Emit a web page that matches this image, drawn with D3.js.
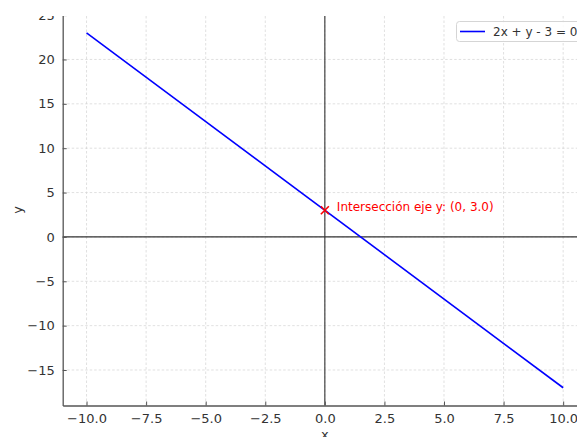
<!DOCTYPE html>
<html>
<head>
<meta charset="utf-8">
<script src="https://cdn.jsdelivr.net/npm/d3@7"></script>
<style>
  body { margin: 0; background: #fff; }
  text { font-family: "DejaVu Sans", sans-serif; }
</style>
</head>
<body>
<div id="chart"></div>
<script>
// line 2x + y - 3 = 0  ->  y = 3 - 2x
var lineX = [-10, 10];
var lineY = [23, -17];
var interceptPt = [0, 3];
var xTicks = [-10, -7.5, -5, -2.5, 0, 2.5, 5, 7.5, 10];
var yTicks = [-15, -10, -5, 0, 5, 10, 15, 20, 25];
var legendLabel = "2x + y - 3 = 0";
var interceptLabel = "Intersección eje y: (0, 3.0)";

var width = 577, height = 437;

var svg = d3.select("#chart")
    .append("svg")
    .attr("width", width)
    .attr("height", height);

// the picture is cut off a bit above the top of the plot
svg.append("clipPath").attr("id", "crop")
    .append("rect").attr("x", 0).attr("y", 16).attr("width", width).attr("height", height - 16);
var root = svg.append("g").attr("clip-path", "url(#crop)");

var x = d3.scaleLinear().domain([-11, 11]).range([62.7, 587]);
var y = d3.scaleLinear().domain([-19, 25]).range([405.5, 15.1]);

var fmtMinus = function (s) { return s.replace("-", "\u2212"); };

// grid
root.append("g").selectAll("line")
    .data(xTicks)
    .enter().append("line")
    .attr("x1", function (d) { return x(d); })
    .attr("x2", function (d) { return x(d); })
    .attr("y1", y(-19))
    .attr("y2", y(25))
    .style("stroke", "#d3d3d3")
    .style("stroke-width", 0.7)
    .style("stroke-dasharray", "2.5,2");
root.append("g").selectAll("line")
    .data(yTicks)
    .enter().append("line")
    .attr("y1", function (d) { return y(d); })
    .attr("y2", function (d) { return y(d); })
    .attr("x1", x(-11))
    .attr("x2", x(11))
    .style("stroke", "#d3d3d3")
    .style("stroke-width", 0.7)
    .style("stroke-dasharray", "2.5,2");

// zero lines
root.append("line")
    .attr("x1", x(-11)).attr("x2", x(11))
    .attr("y1", y(0)).attr("y2", y(0))
    .style("stroke", "#333")
    .style("stroke-width", 1.1);
root.append("line")
    .attr("x1", x(0)).attr("x2", x(0))
    .attr("y1", y(-19)).attr("y2", y(25))
    .style("stroke", "#333")
    .style("stroke-width", 1.1);

// the line
var pts = lineX.map(function (d, i) { return [d, lineY[i]]; });
root.append("path")
    .datum(pts)
    .attr("d", d3.line().x(function (d) { return x(d[0]); }).y(function (d) { return y(d[1]); }))
    .style("fill", "none")
    .style("stroke", "#0000ff")
    .style("stroke-width", 1.6);

// axes (ticks inward)
var xAxis = root.append("g")
    .attr("transform", "translate(0," + y(-19) + ")")
    .call(d3.axisBottom(x).tickValues(xTicks).tickSizeInner(-4).tickSizeOuter(0).tickPadding(8)
        .tickFormat(function (d) { return fmtMinus(d3.format(".1f")(d)); }));
var yAxis = root.append("g")
    .attr("transform", "translate(" + x(-11) + ",0)")
    .call(d3.axisLeft(y).tickValues(yTicks).tickSizeInner(-4).tickSizeOuter(0).tickPadding(8)
        .tickFormat(function (d) { return fmtMinus(String(d)); }));
[xAxis, yAxis].forEach(function (g) {
    g.select(".domain").style("stroke", "#555").style("stroke-width", 1.3);
    g.selectAll(".tick line").style("stroke", "#555");
    g.selectAll(".tick text")
        .style("font-size", "13px")
        .style("fill", "#333")
        .style("font-family", "DejaVu Sans");
});

// axis labels
root.append("text")
    .attr("x", x(0))
    .attr("y", 439)
    .attr("text-anchor", "middle")
    .style("font-size", "13px")
    .style("fill", "#333")
    .text("x");
root.append("text")
    .attr("transform", "translate(22," + 210 + ") rotate(-90)")
    .attr("text-anchor", "middle")
    .style("font-size", "13px")
    .style("fill", "#333")
    .text("y");

// intercept marker
var mx = x(interceptPt[0]), my = y(interceptPt[1]);
root.append("path")
    .attr("d", "M" + (mx - 4) + "," + (my - 4) + "L" + (mx + 4) + "," + (my + 4) +
        "M" + (mx - 4) + "," + (my + 4) + "L" + (mx + 4) + "," + (my - 4))
    .style("stroke", "#ff0000")
    .style("stroke-width", 1.6);
root.append("text")
    .attr("x", mx + 12)
    .attr("y", my + 1)
    .style("font-size", "12px")
    .style("fill", "#ff0000")
    .text(interceptLabel);

// legend
root.append("rect")
    .attr("x", 456.5)
    .attr("y", 21.5)
    .attr("width", 140)
    .attr("height", 20)
    .attr("rx", 3)
    .style("fill", "#fff")
    .style("fill-opacity", 0.85)
    .style("stroke", "#d5d5d5");
root.append("line")
    .attr("x1", 460).attr("x2", 485)
    .attr("y1", 31.5).attr("y2", 31.5)
    .style("stroke", "#0000ff")
    .style("stroke-width", 1.6);
root.append("text")
    .attr("x", 493)
    .attr("y", 36)
    .style("font-size", "12px")
    .style("fill", "#333")
    .text(legendLabel);
</script>
</body>
</html>
